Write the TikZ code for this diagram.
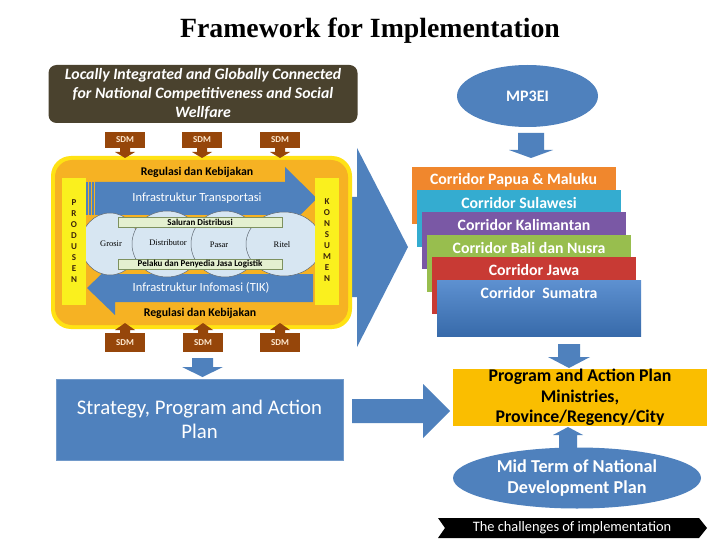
\documentclass[tikz,border=0pt]{standalone}
\usepackage{fontspec}
\setmainfont{Carlito}
\newfontfamily\titlefont{Liberation Serif}
\newfontfamily\serifsmall{Liberation Serif}
\usetikzlibrary{shapes.geometric}
\definecolor{offblue}{RGB}{79,129,189}
\definecolor{darkbox}{RGB}{74,66,46}
\definecolor{glowyellow}{RGB}{255,226,20}
\definecolor{panelorange}{RGB}{246,178,35}
\definecolor{prodyellow}{RGB}{250,240,30}
\definecolor{sdmbrown}{RGB}{150,70,10}
\definecolor{sdmtext}{RGB}{255,235,210}
\definecolor{cloudblue}{RGB}{215,230,242}
\definecolor{cloudedge}{RGB}{95,105,115}
\definecolor{bargreen}{RGB}{228,240,208}
\definecolor{baredge}{RGB}{125,145,95}
\definecolor{corrorange}{RGB}{240,135,45}
\definecolor{corrcyan}{RGB}{52,172,208}
\definecolor{corrpurple}{RGB}{122,88,165}
\definecolor{corrgreen}{RGB}{152,190,78}
\definecolor{corrred}{RGB}{200,58,52}
\definecolor{corrblue}{RGB}{65,125,200}
\definecolor{progyellow}{RGB}{250,190,0}
\definecolor{lettercol}{RGB}{60,35,10}
\tikzset{
  blockarrow/.style={fill=offblue, draw=none},
  sdmbox/.style={fill=sdmbrown, text=sdmtext, font=\bfseries\fontsize{9}{9}\selectfont, minimum width=40, inner sep=0},
  corrbox/.style={anchor=north west, minimum width=204, minimum height=57, inner sep=0, draw=none},
  corrtext/.style={text=white, font=\bfseries\fontsize{15.8}{17}\selectfont, inner sep=0},
  bubble/.style={fill=cloudblue, draw=cloudedge, line width=0.5},
  greenbar/.style={fill=bargreen, draw=baredge, line width=0.5, minimum width=164, minimum height=10, inner sep=0, font=\bfseries\fontsize{9}{10}\selectfont},
  sidebar/.style={fill=prodyellow, minimum width=24, minimum height=127, inner sep=0},
  sideletters/.style={font=\bfseries\fontsize{9}{10.9}\selectfont, align=center, text=lettercol},
  paneltext/.style={text=white, font=\fontsize{12.5}{14}\selectfont, inner sep=0},
  regtext/.style={text=black, font=\bfseries\fontsize{11.8}{12}\selectfont, inner sep=0},
  shoptext/.style={font=\serifsmall\fontsize{8.5}{10}\selectfont, inner sep=0},
}
\begin{document}
\begin{tikzpicture}[x=1pt,y=-1pt]
\useasboundingbox (0,0) rectangle (720,540);
\fill[white] (0,0) rectangle (720,540);

% title
\node[font=\titlefont\bfseries\fontsize{27.8}{30}\selectfont] (title) at (370,31) {Framework for Implementation};

% vision box
\node[fill=darkbox, rounded corners=8, minimum width=309, minimum height=58, inner sep=0, text=white,
      font=\bfseries\itshape\fontsize{15.8}{19}\selectfont, align=center] (vision) at (203,94)
  {Locally Integrated and Globally Connected\\for National Competitiveness and Social\\Wellfare};

% big arrow to the right (behind panel)
\fill[blockarrow] (340,197) -- (357,197) -- (357,148) -- (408,247) -- (357,347) -- (357,297) -- (340,297) -- cycle;

% panel
\fill[glowyellow, rounded corners=20] (51,156) rectangle (352,329);
\fill[panelorange, rounded corners=17] (55,160) rectangle (348,325);

% SDM callouts
\foreach \i/\x in {1/125,2/202,3/280}{
  \node[sdmbox, minimum height=16] (sdmt\i) at (\x,140) {SDM};
  \fill[sdmbrown] (\x-5,148) -- (\x+5,148) -- (\x+5,152) -- (\x+10,152) -- (\x,158) -- (\x-10,152) -- (\x-5,152) -- cycle;
}
\foreach \i/\x in {1/125,2/203,3/280}{
  \node[sdmbox, minimum height=19] (sdmb\i) at (\x,342.5) {SDM};
  \fill[sdmbrown] (\x-5,333) -- (\x-5,330) -- (\x-10,330) -- (\x,323) -- (\x+10,330) -- (\x+5,330) -- (\x+5,333) -- cycle;
}

% top infrastructure arrow
\fill[blockarrow] (95,182) -- (285,182) -- (285,167) -- (317,198.5) -- (285,230) -- (285,215) -- (95,215) -- cycle;
\fill[offblue] (86,182) rectangle (87.5,215);
\fill[offblue] (89,182) rectangle (90.8,215);
\fill[offblue] (92.2,182) rectangle (94,215);
% bottom infrastructure arrow
\fill[blockarrow] (313,274) -- (115,274) -- (115,261) -- (87,288) -- (115,315) -- (115,302) -- (313,302) -- cycle;

% cloud
\filldraw[bubble] (110,244) ellipse [x radius=29, y radius=31];
\filldraw[bubble] (167,244) ellipse [x radius=35, y radius=33];
\filldraw[bubble] (225,244) ellipse [x radius=34, y radius=33];
\filldraw[bubble] (284,244) ellipse [x radius=38, y radius=32];

\node[greenbar] (saluran) at (200,222) {Saluran Distribusi};
\node[greenbar] (pelaku) at (200,264) {Pelaku dan Penyedia Jasa Logistik};
\node[shoptext] (grosir) at (111,244) {Grosir};
\node[shoptext] (distributor) at (168,243) {Distributor};
\node[shoptext] (pasar) at (219,245) {Pasar};
\node[shoptext] (ritel) at (282,245) {Ritel};

\node[paneltext] (transport) at (197,198) {Infrastruktur Transportasi};
\node[paneltext] (info) at (201,288) {Infrastruktur Infomasi (TIK)};
\node[regtext] (regtop) at (197,172) {Regulasi dan Kebijakan};
\node[regtext] (regbot) at (200,313) {Regulasi dan Kebijakan};

% produsen / konsumen bars
\node[sidebar] (produsen) at (74,241.5) {};
\node[sideletters] (prodtext) at (74,241) {P\\R\\O\\D\\U\\S\\E\\N};
\node[sidebar] (konsumen) at (327,241.5) {};
\node[sideletters] (kontext) at (327,240) {K\\O\\N\\S\\U\\M\\E\\N};

% down arrow to strategy
\fill[blockarrow] (192,358) -- (213,358) -- (213,367) -- (223,367) -- (202.5,377) -- (182,367) -- (192,367) -- cycle;
\node[fill=offblue, draw=offblue!80!white, line width=0.8, minimum width=287, minimum height=81, inner sep=0,
      text=white, font=\fontsize{20.8}{24}\selectfont, align=center] (strategy) at (199.5,419.5)
  {Strategy, Program and Action\\Plan};
% arrow strategy -> program
\fill[blockarrow] (352,399) -- (423,399) -- (423,384) -- (450,411) -- (423,438) -- (423,423) -- (352,423) -- cycle;

% MP3EI
\node[ellipse, fill=offblue, minimum width=141, minimum height=62, inner sep=0, text=white,
      font=\bfseries\fontsize{16}{18}\selectfont] (mp3ei) at (527.5,96) {MP3EI};
\fill[blockarrow] (518,133) -- (544,133) -- (544,150) -- (553,150) -- (531,158) -- (509,150) -- (518,150) -- cycle;

% corridors
\node[corrbox, fill=corrorange] (papua) at (412,167) {};
\node[corrbox, fill=corrcyan] (sulawesi) at (417,190) {};
\node[corrbox, fill=corrpurple] (kalimantan) at (422,212) {};
\node[corrbox, fill=corrgreen] (bali) at (427,235) {};
\node[corrbox, fill=corrred] (jawa) at (432,257) {};
\node[corrbox, top color=corrblue!85!white, bottom color=corrblue!85!black, minimum height=56] (sumatra) at (437,280) {};
\node[corrtext] (papuat) at (513.5,180) {Corridor Papua \& Maluku};
\node[corrtext] (sulawesit) at (519,203) {Corridor Sulawesi};
\node[corrtext] (kalimantant) at (524,225) {Corridor Kalimantan};
\node[corrtext] (balit) at (529,248) {Corridor Bali dan Nusra};
\node[corrtext] (jawat) at (534,270) {Corridor Jawa};
\node[corrtext] (sumatrat) at (539,293) {Corridor\ \ Sumatra};

% arrow corridors -> program
\fill[blockarrow] (558,344) -- (580,344) -- (580,357) -- (590,357) -- (569,368) -- (548,357) -- (558,357) -- cycle;

% program box
\node[fill=progyellow, minimum width=254, minimum height=57, inner sep=0, text=black,
      font=\bfseries\fontsize{17.8}{20.5}\selectfont, align=center] (program) at (580,397.5)
  {Program and Action Plan\\Ministries,\\Province/Regency/City};

% arrow mid term -> program
\fill[blockarrow] (559,450) -- (559,435) -- (553,435) -- (568,427) -- (583,435) -- (577,435) -- (577,450) -- cycle;
\node[ellipse, fill=offblue, minimum width=248, minimum height=61, inner sep=0, text=white,
      font=\bfseries\fontsize{18.2}{21}\selectfont, align=center] (midterm) at (577,478)
  {Mid Term of National\\Development Plan};

% banner
\fill[black] (438,518) -- (699,518) -- (707,528) -- (699,538) -- (438,538) -- (445,528) -- cycle;
\node[text=white, font=\fontsize{14.4}{16}\selectfont, inner sep=0] (challenge) at (572,528) {The challenges of implementation};
\end{tikzpicture}
\end{document}
